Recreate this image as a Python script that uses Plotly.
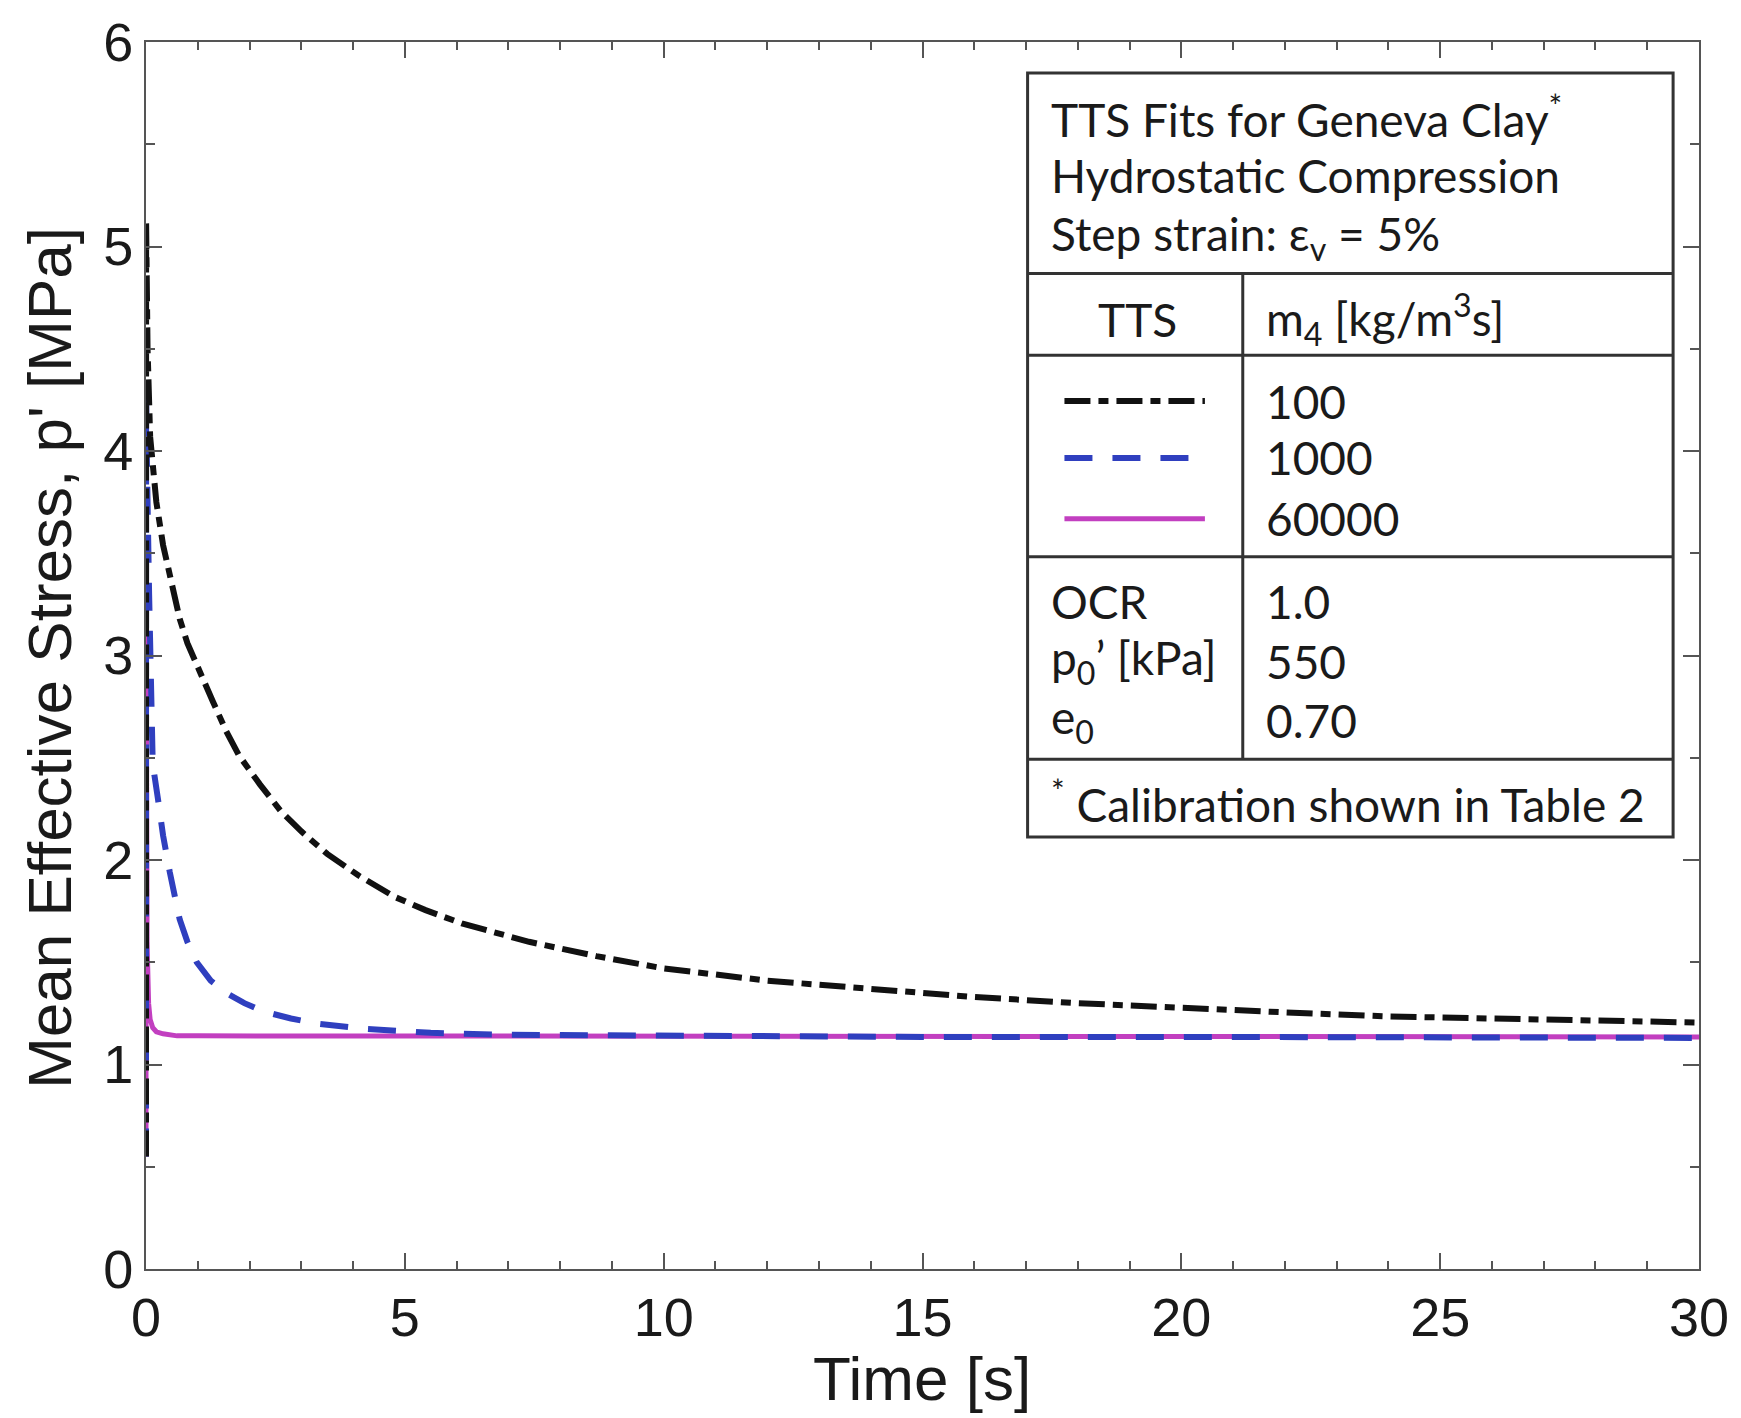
import plotly.graph_objects as go

# Relaxation of mean effective stress after a 5 % volumetric step strain,
# TTS fits for Geneva clay at three viscosity values m4.
m4_labels = ["100", "1000", "60000"]

t_m100 = [0, 0.002, 0.03, 0.08, 0.2, 0.33, 0.5, 0.65, 0.8, 1.0, 1.3, 1.55, 1.8, 2.2,
          2.6, 3.0, 3.5, 4.1, 4.8, 5.4, 6.1, 7.4, 8.7, 10, 12, 14, 16, 18, 20, 22,
          24, 26, 28, 30]
p_m100 = [0.55, 5.12, 4.5, 4.07, 3.75, 3.54, 3.34, 3.18, 3.06, 2.94, 2.77, 2.63, 2.51,
          2.37, 2.24, 2.14, 2.03, 1.925, 1.82, 1.755, 1.69, 1.60, 1.53, 1.47, 1.41,
          1.37, 1.33, 1.30, 1.275, 1.255, 1.235, 1.225, 1.215, 1.205]

t_m1000 = [0, 0.002, 0.02, 0.06, 0.1, 0.13, 0.23, 0.33, 0.46, 0.65, 0.8, 0.98, 1.25,
           1.55, 1.9, 2.26, 2.8, 3.3, 4.2, 5.5, 7, 10, 15, 20, 25, 30]
p_m1000 = [0.55, 4.3, 3.9, 3.3, 2.75, 2.47, 2.30, 2.12, 1.94, 1.71, 1.60, 1.50, 1.41,
           1.35, 1.30, 1.26, 1.225, 1.20, 1.175, 1.155, 1.145, 1.14, 1.135, 1.135,
           1.13, 1.13]

t_m60000 = [0, 0.002, 0.02, 0.05, 0.08, 0.13, 0.2, 0.33, 0.6, 1, 5, 10, 15, 20, 25, 30]
p_m60000 = [0.55, 3.3, 1.6, 1.3, 1.22, 1.18, 1.16, 1.15, 1.14, 1.14, 1.14, 1.14, 1.14,
            1.135, 1.135, 1.135]

# Material parameters listed in the inset table
param_names = ["OCR", "p<sub>0</sub>’ [kPa]", "e<sub>0</sub>"]
param_values = ["1.0", "550", "0.70"]

x_ticks = [0, 5, 10, 15, 20, 25, 30]
y_ticks = [0, 1, 2, 3, 4, 5, 6]

BLACK = "#111111"
BLUE = "#2f3fbf"
MAGENTA = "#c23fc0"
DASHDOT = "26px,8px,10px,8px"
DASH = "28px,20px"

series = [
    (t_m60000, p_m60000, MAGENTA, "solid", 5),
    (t_m1000, p_m1000, BLUE, DASH, 6),
    (t_m100, p_m100, BLACK, DASHDOT, 6),
]

fig = go.Figure()
for t, p, color, dash, w in series:
    fig.add_trace(go.Scatter(x=t, y=p, mode="lines",
                             line=dict(color=color, width=w, dash=dash),
                             showlegend=False))

# plot-area geometry in pixels, used to place the inset table
W, H = 1741, 1418
PL, PR, PT, PB = 146, 1705, 39, 1269


def fx(px):
    return (px - PL) / (PR - PL)


def fy(py):
    return (PB - py) / (PB - PT)


TICK_FONT = dict(family="Liberation Sans, Arial, sans-serif", size=54, color="#1a1a1a")
TITLE_FONT = dict(family="Liberation Sans, Arial, sans-serif", size=62, color="#1a1a1a")
AX = dict(showline=True, linecolor="#555555", linewidth=2, mirror="allticks",
          ticks="inside", ticklen=16, tickwidth=2, tickcolor="#555555",
          showgrid=False, zeroline=False, tickfont=TICK_FONT)

fig.update_xaxes(range=[0, 30], tickvals=x_ticks, ticktext=[str(v) for v in x_ticks],
                 minor=dict(dtick=1, ticks="inside", ticklen=8, tickwidth=2,
                            tickcolor="#555555", showgrid=False), **AX)
fig.update_yaxes(range=[0, 6], tickvals=y_ticks, ticktext=[str(v) for v in y_ticks],
                 minor=dict(dtick=0.5, ticks="inside", ticklen=9, tickwidth=2,
                            tickcolor="#555555", showgrid=False), **AX)

shapes = []
LINE = dict(color="#333333", width=3)
TX0, TX1, TY0, TY1 = 1031, 1679, 70, 836
COLX = 1247
shapes.append(dict(type="rect", xref="paper", yref="paper",
                   x0=fx(TX0), x1=fx(TX1), y0=fy(TY1), y1=fy(TY0),
                   line=LINE, fillcolor="white"))
for yy in [271, 353, 555, 758]:
    shapes.append(dict(type="line", xref="paper", yref="paper",
                       x0=fx(TX0), x1=fx(TX1), y0=fy(yy), y1=fy(yy), line=LINE))
shapes.append(dict(type="line", xref="paper", yref="paper",
                   x0=fx(COLX), x1=fx(COLX), y0=fy(271), y1=fy(758), line=LINE))

# line-style samples for each m4 row
row_y = [399, 456, 517]
for (t, p, color, dash, w), yy in zip(reversed(series), row_y):
    shapes.append(dict(type="line", xref="paper", yref="paper",
                       x0=fx(1068), x1=fx(1209), y0=fy(yy), y1=fy(yy),
                       line=dict(color=color, width=w, dash=dash)))

TAB_FONT = dict(family="Lato, 'Open Sans', sans-serif", size=46, color="#1a1a1a")
ann = []


def label(text, px, py, anchor="left"):
    ann.append(dict(text=text, xref="paper", yref="paper", x=fx(px), y=fy(py),
                    xanchor=anchor, yanchor="middle", showarrow=False, font=TAB_FONT))


label("TTS Fits for Geneva Clay<sup>*</sup>", 1052, 114)
label("Hydrostatic Compression", 1052, 173)
label("Step strain: ε<sub>v</sub> = 5%", 1052, 234)
label("TTS", 1141, 317, anchor="center")
label("m<sub>4</sub> [kg/m<sup>3</sup>s]", 1268, 317)
for txt, yy in zip(m4_labels, row_y):
    label(txt, 1268, yy)
for name, val, yy in zip(param_names, param_values, [600, 660, 719]):
    label(name, 1052, yy)
    label(val, 1268, yy)
label("<sup>*</sup> Calibration shown in Table 2", 1052, 800)

# axis titles
ann.append(dict(text="Time [s]", xref="paper", yref="paper", x=fx(925), y=fy(1379),
                xanchor="center", yanchor="middle", showarrow=False, font=TITLE_FONT))
ann.append(dict(text="Mean Effective Stress, p' [MPa]", xref="paper", yref="paper",
                x=fx(49), y=fy(656), xanchor="center", yanchor="middle",
                textangle=-90, showarrow=False, font=TITLE_FONT))

fig.update_layout(width=W, height=H, autosize=False,
                  margin=dict(l=PL, r=W - PR, t=PT, b=H - PB, pad=0),
                  plot_bgcolor="white", paper_bgcolor="white",
                  shapes=shapes, annotations=ann)

fig.write_html("out.html")
